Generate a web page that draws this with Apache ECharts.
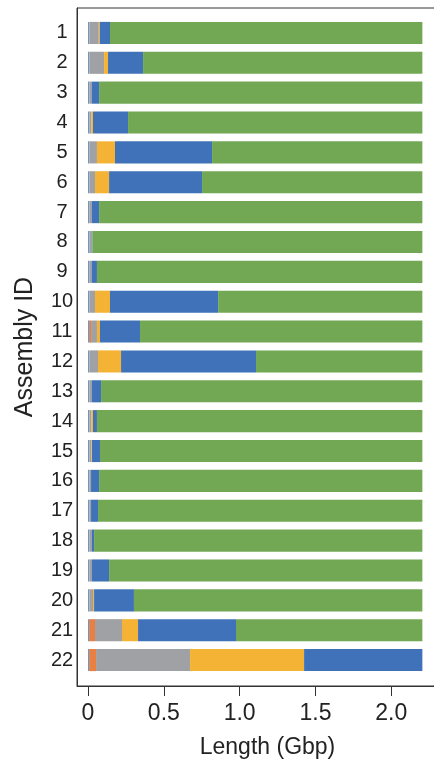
<!DOCTYPE html>
<html>
<head>
<meta charset="utf-8">
<script src="https://cdn.jsdelivr.net/npm/echarts@6.0.0/dist/echarts.min.js"></script>
<style>
  html, body { margin: 0; padding: 0; background: #fff; }
  #AssemblyChart { width: 434px; height: 763px; }
</style>
</head>
<body>
<div id="AssemblyChart"></div>
<script>
// assembly ids, top to bottom
const assemblyIds = ['1', '2', '3', '4', '5', '6', '7', '8', '9', '10', '11',
	'12', '13', '14', '15', '16', '17', '18', '19', '20', '21', '22']

// segment lengths (Gbp)
const lightBlueLen = [0.007, 0.007, 0.007, 0.007, 0.007, 0.007, 0.007, 0.007, 0.007, 0.007, 0.007,
	0.007, 0.007, 0.007, 0.007, 0.007, 0.007, 0.007, 0.007, 0.007, 0.007, 0.007]
const orangeLen = [0.003, 0.003, 0.002, 0.002, 0.003, 0.003, 0.003, 0.002, 0.002, 0.003, 0.013,
	0.003, 0.003, 0.003, 0.003, 0.003, 0.003, 0.003, 0.003, 0.003, 0.039, 0.046]
const grayLen = [0.061, 0.096, 0.017, 0.013, 0.049, 0.036, 0.016, 0.017, 0.017, 0.036, 0.039,
	0.056, 0.016, 0.012, 0.012, 0.010, 0.010, 0.016, 0.016, 0.023, 0.178, 0.620]
const yellowLen = [0.007, 0.026, 0, 0.011, 0.119, 0.093, 0, 0, 0, 0.099, 0.020,
	0.152, 0, 0.011, 0.004, 0, 0, 0, 0, 0.007, 0.106, 0.752]
const blueLen = [0.067, 0.231, 0.047, 0.231, 0.640, 0.613, 0.047, 0.003, 0.033, 0.713, 0.264,
	0.890, 0.060, 0.026, 0.053, 0.053, 0.046, 0.014, 0.113, 0.263, 0.646, 0.780]
const greenLen = [2.060, 1.842, 2.132, 1.941, 1.387, 1.453, 2.132, 2.176, 2.146, 1.347, 1.862,
	1.097, 2.119, 2.146, 2.126, 2.132, 2.139, 2.165, 2.066, 1.902, 1.229, 0]

const xTicks = [0, 0.5, 1, 1.5, 2]

const segColors = ['#5b9bd5', '#e97f41', '#a0a1a4', '#f5b335', '#3f72b9', '#72a853']
const segData = [lightBlueLen, orangeLen, grayLen, yellowLen, blueLen, greenLen]
const segNames = ['lightblue', 'orange', 'gray', 'yellow', 'blue', 'green']

const xMin = -0.0726
const xMax = 2.44
const axisColor = '#333'
const textColor = '#222'

const option = {
	backgroundColor: '#fff',
	animation: false,
	grid: [
		// frame + x axis (runs past the right edge, like the cropped original)
		{ left: 77, width: 381, top: 8, bottom: 77, outerBoundsMode: 'none', show: true, borderColor: axisColor, borderWidth: 1, backgroundColor: 'transparent' },
		// bars
		{ left: 77, width: 381, top: 18, bottom: 88, outerBoundsMode: 'none' }
	],
	xAxis: [
		{
			gridIndex: 0,
			type: 'value',
			min: xMin,
			max: xMax,
			name: 'Length (Gbp)',
			nameLocation: 'middle',
			nameGap: 50,
			nameTextStyle: { fontSize: 23, color: textColor, fontFamily: 'Liberation Sans, Arial, sans-serif' },
			axisLine: { show: true, onZero: false, lineStyle: { color: axisColor, width: 1 } },
			axisTick: { show: true, length: 10, customValues: xTicks, lineStyle: { color: axisColor } },
			axisLabel: {
				customValues: xTicks,
				fontSize: 23,
				margin: 16,
				color: textColor,
				fontFamily: 'Liberation Sans, Arial, sans-serif',
				formatter: v => (v === 0 ? '0' : v.toFixed(1))
			},
			splitLine: { show: false }
		},
		{
			gridIndex: 1,
			type: 'value',
			min: xMin,
			max: xMax,
			show: false
		}
	],
	yAxis: [
		{
			gridIndex: 0,
			type: 'value',
			min: 0,
			max: 1,
			name: 'Assembly ID',
			nameLocation: 'middle',
			nameGap: 39,
			nameTextStyle: { fontSize: 25, color: textColor, fontFamily: 'Liberation Sans, Arial, sans-serif' },
			axisLine: { show: true, onZero: false, lineStyle: { color: axisColor, width: 1 } },
			axisTick: { show: false },
			axisLabel: { show: false },
			splitLine: { show: false }
		},
		{
			gridIndex: 1,
			type: 'category',
			inverse: true,
			data: assemblyIds,
			axisLine: { show: false },
			axisTick: { show: false },
			axisLabel: {
				align: 'center',
				margin: 15,
				fontSize: 20,
				color: textColor,
				fontFamily: 'Liberation Sans, Arial, sans-serif'
			}
		}
	],
	series: segData.map((d, i) => ({
		name: segNames[i],
		type: 'bar',
		stack: 'total',
		xAxisIndex: 1,
		yAxisIndex: 1,
		barCategoryGap: '26%',
		itemStyle: { color: segColors[i], borderWidth: 0 },
		data: d
	}))
}

const chartDom = echarts.init(document.getElementById('AssemblyChart'))
chartDom.setOption(option, true)
</script>
</body>
</html>
